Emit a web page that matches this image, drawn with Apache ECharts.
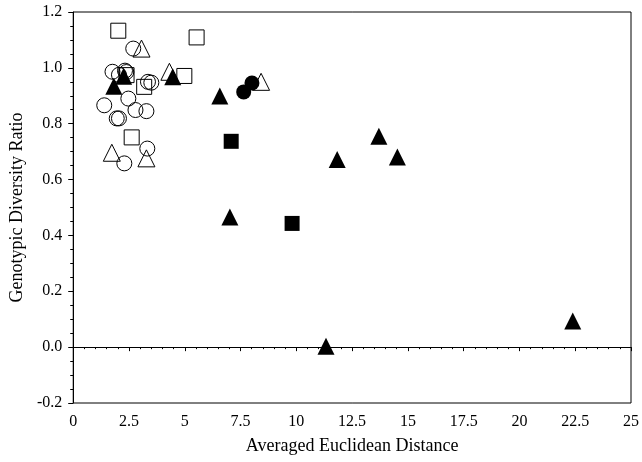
<!DOCTYPE html>
<html><head><meta charset="utf-8">
<script src="https://cdn.jsdelivr.net/npm/echarts@6/dist/echarts.min.js"></script>
<style>html,body{margin:0;padding:0;background:#fff}#c{width:642px;height:462px}</style>
</head><body><div id="c"></div>
<script>
// Data: [x, y]
const openCircles = [
  [2.69, 1.069], [1.76, 0.986], [2.05, 0.975], [2.38, 0.985], [2.32, 0.99],
  [3.35, 0.95], [3.5, 0.947], [2.47, 0.89], [1.39, 0.866], [2.79, 0.849],
  [3.28, 0.845], [1.95, 0.819], [2.05, 0.819], [3.32, 0.711], [2.29, 0.658]
];
const openTriangles = [
  [3.06, 1.069], [4.31, 0.986], [8.42, 0.95], [1.73, 0.696], [3.28, 0.676]
];
const openSquares = [
  [2.02, 1.133], [5.53, 1.109], [4.98, 0.971], [3.18, 0.932], [2.62, 0.751], [2.39, 0.974]
];
const filledCircles = [
  [7.64, 0.914], [8.01, 0.946]
];
const filledSquares = [
  [7.08, 0.737], [9.81, 0.443]
];
const filledTriangles = [
  [1.82, 0.934], [2.26, 0.97], [4.46, 0.968], [6.57, 0.899], [7.02, 0.466],
  [13.7, 0.755], [11.83, 0.672], [14.53, 0.681], [22.39, 0.094], [11.33, 0.003]
];
const xTicks = [0, 2.5, 5, 7.5, 10, 12.5, 15, 17.5, 20, 22.5, 25];
const yTicks = [-0.2, 0.0, 0.2, 0.4, 0.6, 0.8, 1.0, 1.2];

const font = 'Liberation Serif';
const chart = echarts.init(document.getElementById('c'), null, {renderer: 'canvas'});
function openSeries(name, data, symbol, size) {
  return {name, type: 'scatter', data, symbol, symbolSize: size,
    itemStyle: {color: 'rgba(0,0,0,0)', borderColor: '#000', borderWidth: 1, opacity: 1}, z: 2};
}
function filledSeries(name, data, symbol, size) {
  return {name, type: 'scatter', data, symbol, symbolSize: size,
    itemStyle: {color: '#000', borderColor: '#000', borderWidth: 0, opacity: 1}, z: 3};
}
chart.setOption({
  animation: false,
  backgroundColor: '#fff',
  grid: {left: 71, right: 6, top: 12, bottom: 59, show: true, borderColor: '#000', borderWidth: 1},
  xAxis: {
    type: 'value', min: xTicks[0], max: xTicks[xTicks.length - 1], interval: 2.5,
    name: 'Averaged Euclidean Distance', nameLocation: 'middle', nameGap: 34,
    nameTextStyle: {fontFamily: font, fontSize: 18, color: '#000'},
    axisLine: {lineStyle: {color: '#000', width: 1}},
    axisTick: {show: true, length: 4, lineStyle: {color: '#000'}},
    minorTick: {show: true, splitNumber: 5, length: 2, lineStyle: {color: '#000'}},
    axisLabel: {fontFamily: font, fontSize: 16, color: '#000', margin: 11,
      formatter: v => String(v)},
    splitLine: {show: false}
  },
  yAxis: {
    type: 'value', min: yTicks[0], max: yTicks[yTicks.length - 1], interval: 0.2,
    name: 'Genotypic Diversity Ratio', nameLocation: 'middle', nameGap: 46,
    nameTextStyle: {fontFamily: font, fontSize: 18, color: '#000'},
    axisLine: {lineStyle: {color: '#000', width: 1}},
    axisTick: {show: true, length: 5, lineStyle: {color: '#000'}},
    minorTick: {show: true, splitNumber: 4, length: 3, lineStyle: {color: '#000'}},
    axisLabel: {fontFamily: font, fontSize: 16, color: '#000', margin: 11,
      formatter: v => v.toFixed(1)},
    splitLine: {show: false}
  },
  series: [
    openSeries('Open circles', openCircles, 'circle', 15),
    openSeries('Open triangles', openTriangles, 'triangle', 17),
    openSeries('Open squares', openSquares, 'rect', 15),
    filledSeries('Filled circles', filledCircles, 'circle', 15),
    filledSeries('Filled squares', filledSquares, 'rect', 15),
    Object.assign(filledSeries('Filled triangles', filledTriangles, 'triangle', 17), {
      markLine: {silent: true, symbol: 'none', label: {show: false},
        lineStyle: {type: [1, 2], color: '#000', width: 1, opacity: 1},
        data: [{yAxis: 0}]}
    })
  ]
});
</script></body></html>
